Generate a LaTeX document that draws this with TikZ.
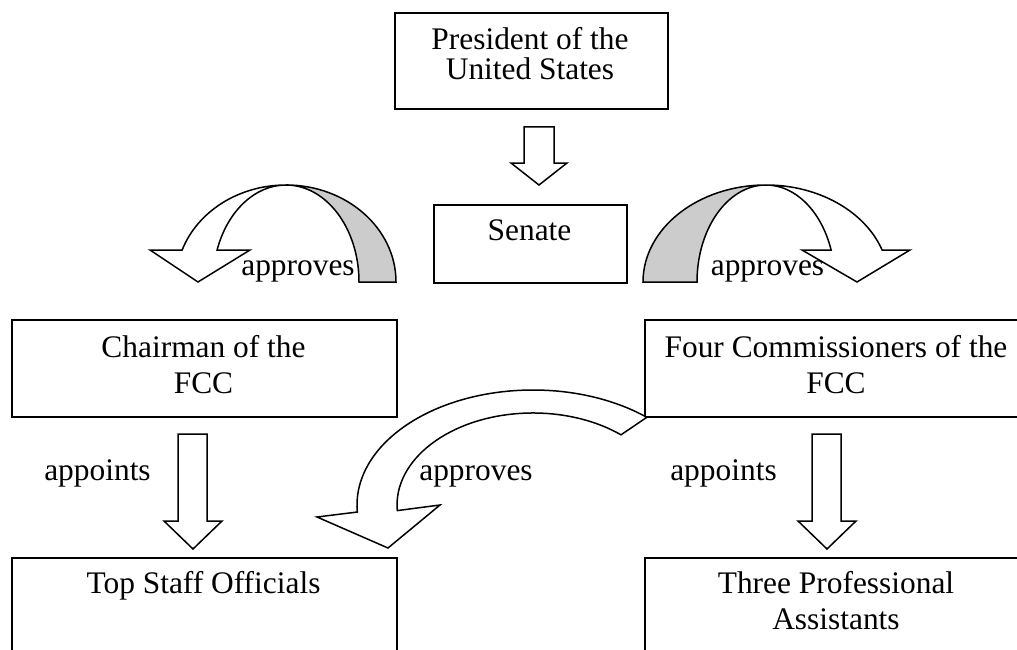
\documentclass[tikz,border=0pt]{standalone}
\usepackage{fontspec}
\setmainfont{Liberation Serif}
\definecolor{shade}{RGB}{204,204,204}
\begin{document}
\begin{tikzpicture}[x=1pt,y=1pt,
  box/.style={draw, line width=1.6pt, inner sep=0pt, anchor=north west},
  lbl/.style={inner sep=0pt, align=center, anchor=base, font=\fontsize{31.4}{36}\selectfont},
  blockarrow/.style={draw, fill=white, line width=1.5pt, line join=miter},
  curved/.style={draw, line width=1.5pt, line join=miter}]
\useasboundingbox (0,0) rectangle (1017,-650);
\clip (0,0) rectangle (1017,-650);

% boxes
\node[box, minimum width=273pt, minimum height=96pt] (pres) at (394,-12) {};
\node[box, minimum width=193pt, minimum height=78pt] (senate) at (433,-204) {};
\node[box, minimum width=385pt, minimum height=97pt] (chair) at (11,-319) {};
\node[box, minimum width=384pt, minimum height=97pt] (four) at (644,-319) {};
\node[box, minimum width=385pt, minimum height=105pt] (staff) at (11,-557) {};
\node[box, minimum width=384pt, minimum height=105pt] (three) at (644,-557) {};

% box texts (anchor = baseline of last line)
\node[lbl, font=\fontsize{31.4}{30}\selectfont] (prestxt) at (530,-80) {President of the\\United States};
\node[lbl] (senatetxt) at (529.5,-240) {Senate};
\node[lbl] (chairtxt) at (203.5,-393) {Chairman of the\\FCC};
\node[lbl] (fourtxt) at (836,-393) {Four Commissioners of the\\FCC};
\node[lbl] (stafftxt) at (203.5,-593) {Top Staff Officials};
\node[lbl] (threetxt) at (836,-629) {Three Professional\\Assistants};

% straight block arrows
\draw[blockarrow] (524,-127) -- (554,-127) -- (554,-163) -- (567,-163) -- (539,-185) -- (511,-163) -- (524,-163) -- cycle;
\draw[blockarrow] (178,-434) -- (207,-434) -- (207,-521) -- (222,-521) -- (193,-549) -- (164,-521) -- (178,-521) -- cycle;
\draw[blockarrow] (812,-434) -- (841,-434) -- (841,-521) -- (856,-521) -- (827,-549) -- (798,-521) -- (812,-521) -- cycle;

% left curved arrow
\draw[curved, fill=shade] (396,-282) arc[start angle=0, end angle=90, x radius=110, y radius=97]
  arc[start angle=90, end angle=0, x radius=73, y radius=97] -- cycle;
\draw[curved, fill=white] (286,-185) arc[start angle=90, end angle=160.74, x radius=110, y radius=97]
  -- (150,-250) -- (198,-282) -- (250,-250) -- (217.1,-250)
  arc[start angle=160.74, end angle=90, x radius=73, y radius=97] -- cycle;

% right curved arrow
\draw[curved, fill=shade] (643,-282) arc[start angle=180, end angle=90, x radius=123, y radius=97]
  arc[start angle=90, end angle=180, x radius=69, y radius=97] -- cycle;
\draw[curved, fill=white] (766,-185) arc[start angle=90, end angle=19.26, x radius=123, y radius=97]
  -- (910,-250) -- (857,-282) -- (802,-250) -- (831.1,-250)
  arc[start angle=19.26, end angle=90, x radius=69, y radius=97] -- cycle;

% middle curved arrow
\draw[curved, fill=white] (646.8,-417.3) arc[start angle=49.7, end angle=183.5, x radius=176, y radius=115]
  -- (317,-517) -- (388,-548) -- (440,-505) -- (397.3,-510.6)
  arc[start angle=183.5, end angle=49.7, x radius=136, y radius=92] -- cycle;

% labels
\node[lbl] (apL) at (298,-275) {approves};
\node[lbl] (apR) at (767.5,-275) {approves};
\node[lbl] (apM) at (476,-480) {approves};
\node[lbl] (anL) at (97.5,-480) {appoints};
\node[lbl] (anR) at (723.5,-480) {appoints};
\end{tikzpicture}
\end{document}
